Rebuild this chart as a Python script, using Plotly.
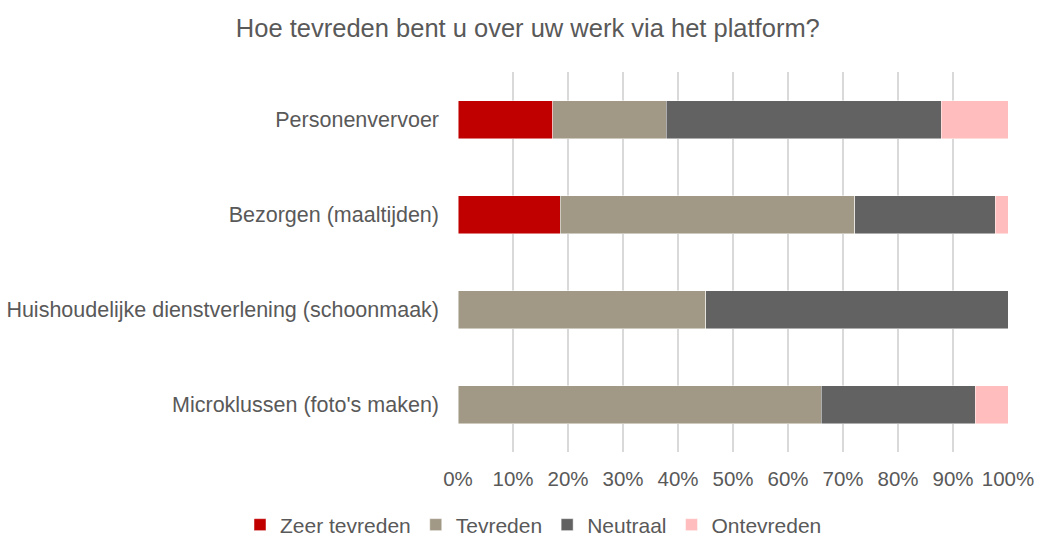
import plotly.graph_objects as go

categories = [
    "Personenvervoer",
    "Bezorgen (maaltijden)",
    "Huishoudelijke dienstverlening (schoonmaak)",
    "Microklussen (foto's maken)",
]
series_names = ["Zeer tevreden", "Tevreden", "Neutraal", "Ontevreden"]
zeer_tevreden = [17.2, 18.6, 0.0, 0.0]
tevreden = [20.7, 53.5, 45.0, 66.0]
neutraal = [50.0, 25.6, 55.0, 28.0]
ontevreden = [12.1, 2.3, 0.0, 6.0]
x_ticks = [0, 10, 20, 30, 40, 50, 60, 70, 80, 90, 100]
x_ticklabels = [f"{v}%" for v in x_ticks]

colors = ["#C00000", "#A19885", "#626262", "#FFBDBD"]
values = [zeer_tevreden, tevreden, neutraal, ontevreden]

FONT = "Arial, Liberation Sans, sans-serif"
TXT = "#595959"

fig = go.Figure()
for name, vals, col in zip(series_names, values, colors):
    fig.add_trace(go.Bar(
        y=categories, x=vals, name=name, orientation="h",
        marker=dict(color=col, line=dict(color="rgba(255,255,255,0.6)", width=0.8)),
    ))

fig.update_layout(
    template="none",
    width=1037, height=536,
    barmode="stack", bargap=0.6,
    paper_bgcolor="white", plot_bgcolor="white",
    margin=dict(l=458, r=29, t=72, b=84, pad=0, autoexpand=False),
    font=dict(family=FONT, size=20.5, color=TXT),
    title=dict(text="Hoe tevreden bent u over uw werk via het platform?",
               x=0.509, xref="container", xanchor="center",
               y=1 - 28 / 536, yref="container", yanchor="middle",
               font=dict(family=FONT, size=25.5, color=TXT)),
    xaxis=dict(range=[0, 100], tickvals=x_ticks, ticktext=x_ticklabels,
               showgrid=True, gridcolor="#D9D9D9", gridwidth=1.5,
               zeroline=False, showline=False, ticks="",
               ticklabelstandoff=12,
               tickfont=dict(family=FONT, size=20.5, color=TXT)),
    yaxis=dict(categoryorder="array", categoryarray=categories,
               autorange="reversed", showgrid=False, zeroline=False,
               showline=False, ticks="", ticklabelstandoff=18,
               tickfont=dict(family=FONT, size=21.5, color=TXT)),
    legend=dict(orientation="h", xref="paper", yref="paper",
                x=(240 - 458) / 550, xanchor="left",
                y=(452 - 525) / 380, yanchor="middle",
                font=dict(family=FONT, size=21, color=TXT),
                traceorder="normal", itemclick=False),
    showlegend=True,
)

fig.write_html("out.html", config={"displayModeBar": False},
               post_script="document.body.style.margin='0';document.body.style.padding='0';")
